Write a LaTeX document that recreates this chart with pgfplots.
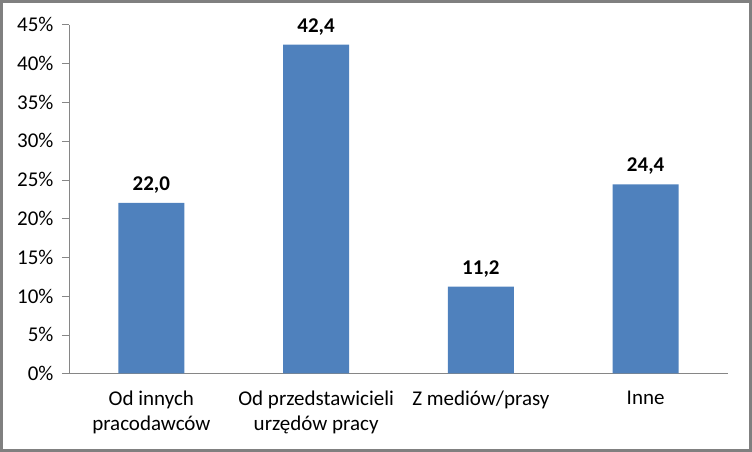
\documentclass[border=0pt]{standalone}
\usepackage{pgfplots}
\pgfplotsset{compat=1.18}
\usepackage{fontspec}
\setmainfont{Carlito}
\definecolor{barblue}{HTML}{4F81BD}
\definecolor{axisgray}{HTML}{868686}
\definecolor{framegray}{HTML}{808080}
\begin{document}
\begin{tikzpicture}
\begin{axis}[
    scale only axis,
    width=659pt, height=349pt,
    xmin=-0.5, xmax=3.5,
    ymin=0, ymax=45,
    axis lines=left,
    axis line style={draw=axisgray,-},
    ytick={0,5,...,45},
    yticklabel={\pgfmathprintnumber{\tick}\%},
    /pgf/number format/assume math mode=true,
    tick align=outside,
    major tick length=7pt,
    tick style={draw=axisgray},
    xtick={0,1,2,3},
    xticklabels={{Od innych\\pracodawców},{Od przedstawicieli\\urzędów pracy},{Z mediów/prasy},{Inne}},
    x tick label style={align=center, yshift=-7pt},
    major x tick style={draw=none},
    extra x ticks={-0.5,0.5,1.5,2.5,3.5},
    extra x tick labels={},
    extra x tick style={major tick length=6pt, tick style={draw=axisgray}},
    ticklabel style={font=\fontsize{21}{25}\selectfont, text=black},
    yticklabel style={xshift=-5pt},
    ybar,
    bar width=66pt,
    nodes near coords={\pgfmathprintnumber[fixed,fixed zerofill,precision=1,use comma]{\pgfplotspointmeta}},
    nodes near coords style={font=\fontsize{21}{24}\selectfont\bfseries, text=black, yshift=6pt},
    clip=false,
]
\addplot[fill=barblue, draw=none] coordinates {(0,22.0) (1,42.4) (2,11.2) (3,24.4)};
\end{axis}
\draw[framegray, line width=3pt] (-67.5pt,-77pt) rectangle (681.5pt,372pt);
\end{tikzpicture}
\end{document}
